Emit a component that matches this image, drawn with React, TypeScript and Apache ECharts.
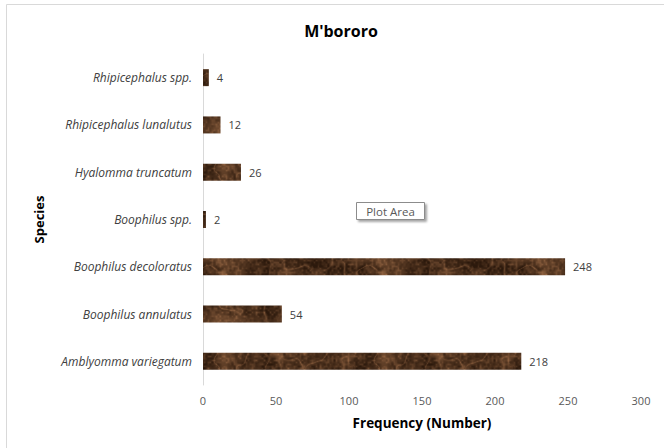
import React, { useEffect, useRef } from "react";
import * as echarts from "echarts";

// Tick species recorded, listed bottom-to-top as drawn on the category axis
const species = [
  "Amblyomma variegatum",
  "Boophilus annulatus",
  "Boophilus decoloratus",
  "Boophilus spp.",
  "Hyalomma truncatum",
  "Rhipicephalus lunalutus",
  "Rhipicephalus spp.",
];
const frequency = [218, 54, 248, 2, 26, 12, 4];

const xMin = 0;
const xMax = 300;
const xStep = 50;

// Builds a seamless mottled brown marble tile used as the bar fill
function makeMarbleTile(w: number, h: number): HTMLCanvasElement {
  const c = document.createElement("canvas");
  c.width = w;
  c.height = h;
  const ctx = c.getContext("2d")!;
  let seed = 246813579;
  const rnd = () => {
    seed = (Math.imul(seed, 1664525) + 1013904223) >>> 0;
    return seed / 4294967296;
  };
  const lattice = (gw: number, gh: number) => {
    const g: number[] = [];
    for (let i = 0; i < gw * gh; i++) g.push(rnd());
    return (x: number, y: number) => {
      const fx = (x / w) * gw;
      const fy = (y / h) * gh;
      const x0 = Math.floor(fx);
      const y0 = Math.floor(fy);
      const tx = fx - x0;
      const ty = fy - y0;
      const sx = tx * tx * (3 - 2 * tx);
      const sy = ty * ty * (3 - 2 * ty);
      const at = (i: number, j: number) =>
        g[(((j % gh) + gh) % gh) * gw + (((i % gw) + gw) % gw)];
      const a = at(x0, y0) * (1 - sx) + at(x0 + 1, y0) * sx;
      const b = at(x0, y0 + 1) * (1 - sx) + at(x0 + 1, y0 + 1) * sx;
      return a * (1 - sy) + b * sy;
    };
  };
  const o1 = lattice(5, 2);
  const o2 = lattice(10, 4);
  const o3 = lattice(20, 8);
  const o4 = lattice(40, 16);
  const o5 = lattice(80, 32);
  const img = ctx.createImageData(w, h);
  for (let y = 0; y < h; y++) {
    for (let x = 0; x < w; x++) {
      // turbulence: sum of absolute deviations gives cloudy, streaky marble
      const turb =
        0.42 * Math.abs(o1(x, y) - 0.5) * 2 +
        0.26 * Math.abs(o2(x, y) - 0.5) * 2 +
        0.16 * Math.abs(o3(x, y) - 0.5) * 2 +
        0.1 * Math.abs(o4(x, y) - 0.5) * 2 +
        0.06 * Math.abs(o5(x, y) - 0.5) * 2;
      const streak = Math.pow(Math.max(0, 1 - Math.abs(o2(x, y) + 0.5 * o3(x, y) - 0.75) * 6), 2);
      const speck = (o5(x, y) - 0.5) * 0.3;
      const t = Math.min(1, Math.max(0, Math.pow(turb, 1.6) * 0.9 + streak * 0.3 + speck));
      const r = 44 + t * 130;
      const gch = 25 + t * 95;
      const b = 12 + t * 68;
      const k = (y * w + x) * 4;
      img.data[k] = Math.min(255, r);
      img.data[k + 1] = Math.min(255, gch);
      img.data[k + 2] = Math.min(255, b);
      img.data[k + 3] = 255;
    }
  }
  ctx.putImageData(img, 0, 0);
  return c;
}

const FONT = "'Open Sans', Lato, sans-serif";

export default function App() {
  const ref = useRef<HTMLDivElement>(null);

  useEffect(() => {
    document.body.style.margin = "0";
    if (!ref.current) return;
    const chart = echarts.init(ref.current, undefined, { renderer: "svg" });
    const tileW = 160;
    const tileH = 64;
    const tile = makeMarbleTile(tileW, tileH);

    chart.setOption({
      animation: false,
      backgroundColor: "#ffffff",
      textStyle: { fontFamily: FONT },
      title: {
        text: "M'bororo",
        left: 336,
        top: 18,
        textAlign: "center",
        textStyle: { fontFamily: FONT, fontSize: 16, fontWeight: "bold", color: "#000000" },
      },
      grid: { left: 203, right: 23, top: 54, bottom: 63, containLabel: false },
      xAxis: {
        type: "value",
        min: xMin,
        max: xMax,
        interval: xStep,
        name: "Frequency (Number)",
        nameLocation: "middle",
        nameGap: 31,
        nameTextStyle: { fontFamily: FONT, fontSize: 13.5, fontWeight: "bold", color: "#000000" },
        axisLine: { show: false },
        axisTick: { show: false },
        splitLine: { show: false },
        axisLabel: { fontFamily: FONT, fontSize: 11, color: "#595959", margin: 10 },
      },
      yAxis: {
        type: "category",
        data: species,
        name: "Species",
        nameLocation: "middle",
        nameGap: 158,
        nameRotate: 90,
        nameTextStyle: { fontFamily: FONT, fontSize: 13, fontWeight: "bold", color: "#000000" },
        axisLine: { show: true, lineStyle: { color: "#d9d9d9", width: 1 } },
        axisTick: { show: false },
        axisLabel: {
          fontFamily: FONT,
          fontSize: 12,
          fontStyle: "italic",
          color: "#404040",
          margin: 11,
        },
      },
      series: [
        {
          type: "bar",
          data: frequency,
          barWidth: 17,
          itemStyle: {
            color: { image: tile, repeat: "repeat", imageWidth: tileW, imageHeight: tileH },
          },
          label: {
            show: true,
            position: "right",
            distance: 8,
            fontFamily: FONT,
            fontSize: 11,
            color: "#404040",
          },
        },
      ],
      graphic: [
        {
          type: "rect",
          shape: { x: 6.5, y: 4.5, width: 700, height: 500 },
          style: { fill: "none", stroke: "#d9d9d9", lineWidth: 1 },
          silent: true,
        },
        {
          type: "group",
          left: 356,
          top: 202,
          children: [
            {
              type: "rect",
              shape: { x: 0, y: 0, width: 68, height: 17 },
              style: {
                fill: "#ffffff",
                stroke: "#8c8c8c",
                lineWidth: 1,
                shadowColor: "rgba(0,0,0,0.35)",
                shadowBlur: 2,
                shadowOffsetX: 2,
                shadowOffsetY: 2,
              },
            },
            {
              type: "text",
              x: 34,
              y: 8.5,
              style: {
                text: "Plot Area",
                fontFamily: FONT,
                fontSize: 11.5,
                fill: "#595959",
                align: "center",
                verticalAlign: "middle",
              },
            },
          ],
        },
      ],
    });

    return () => chart.dispose();
  }, []);

  return <div ref={ref} style={{ width: 664, height: 448 }} />;
}
